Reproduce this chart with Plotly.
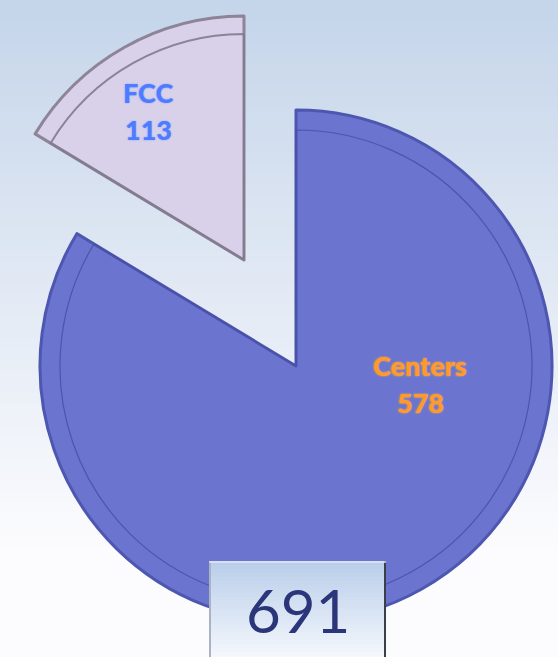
import plotly.graph_objects as go

# ---- data ----
labels = ["Centers", "FCC"]
values = [578, 113]
total_label = "691"

W, H = 558, 657

centers_color = "#6b75cf"
fcc_color = "#d9d1e9"
clear = "rgba(0,0,0,0)"

def px_x(x):
    return x / W

def px_y(y):
    return 1 - y / H

fig = go.Figure()

def pie(colors, line_colors, widths, cx, cy, r):
    return go.Pie(
        labels=labels, values=values, sort=False, direction="clockwise", rotation=0,
        marker=dict(colors=colors, line=dict(color=line_colors, width=widths)),
        textinfo="none", hoverinfo="label+value", showlegend=False,
        domain=dict(x=[(cx - r) / W, (cx + r) / W],
                    y=[1 - (cy + r) / H, 1 - (cy - r) / H]),
    )

# main pie (Centers visible)
fig.add_trace(pie([centers_color, clear], ["#4e57b0", clear], [3, 0], 296, 366, 256))
# inner bevel line of Centers
fig.add_trace(pie([clear, clear], ["rgba(70,78,160,0.8)", clear], [1.2, 0], 296, 366, 236))
# exploded FCC slice
fig.add_trace(pie([clear, fcc_color], [clear, "#8d8498"], [0, 3], 244, 260, 244))
# inner bevel line of FCC
fig.add_trace(pie([clear, clear], [clear, "rgba(130,122,142,0.9)"], [0, 2], 244, 260, 226))

shapes = []
# background gradient
n = 60
top = (197, 213, 234)
bot = (252, 252, 254)
for i in range(n):
    t = i / (n - 1)
    tt = min(1.0, t / 0.85)
    c = tuple(int(round(top[k] + (bot[k] - top[k]) * tt)) for k in range(3))
    shapes.append(dict(type="rect", xref="paper", yref="paper",
                       x0=-0.01, x1=1.01, y0=1 - (i + 1.6) / n, y1=1 - i / n + 0.002,
                       fillcolor="rgb(%d,%d,%d)" % c, line=dict(width=0), layer="below"))

# total box gradient
bx0, bx1, by0, by1 = 209, 386, 561, 660
m = 25
btop = (186, 206, 234)
bbot = (245, 248, 253)
for i in range(m):
    t = i / (m - 1)
    c = tuple(int(round(btop[k] + (bbot[k] - btop[k]) * t)) for k in range(3))
    ya = by0 + (by1 - by0) * i / m
    yb = by0 + (by1 - by0) * (i + 1.6) / m
    shapes.append(dict(type="rect", xref="paper", yref="paper",
                       x0=px_x(bx0), x1=px_x(bx1), y0=px_y(min(yb, by1)), y1=px_y(ya),
                       fillcolor="rgb(%d,%d,%d)" % c, line=dict(width=0), layer="above"))
# box edges
shapes.append(dict(type="line", xref="paper", yref="paper",
                   x0=px_x(bx1 - 1), x1=px_x(bx1 - 1), y0=-0.01, y1=px_y(by0),
                   line=dict(color="#3a3f4a", width=2), layer="above"))
shapes.append(dict(type="line", xref="paper", yref="paper",
                   x0=px_x(bx0 + 1), x1=px_x(bx0 + 1), y0=-0.01, y1=px_y(by0),
                   line=dict(color="#a9b3c2", width=2), layer="above"))
shapes.append(dict(type="line", xref="paper", yref="paper",
                   x0=px_x(bx0), x1=px_x(bx1), y0=px_y(by0 + 1), y1=px_y(by0 + 1),
                   line=dict(color="#dfe8f4", width=1.5), layer="above"))

annotations = []
label_styles = {
    "FCC": dict(x=148, y1=92, y2=129, color="#4f7cff", glow="#7fa3ff"),
    "Centers": dict(x=420, y1=365, y2=402, color="#ff9a2a", glow="#ffb24f"),
}
for lab, val in zip(labels, values):
    st = label_styles[lab]
    for txt, yy in ((lab, st["y1"]), (str(val), st["y2"])):
        annotations.append(dict(
            text=txt, x=px_x(st["x"]), y=px_y(yy), xref="paper", yref="paper",
            showarrow=False, xanchor="center", yanchor="middle",
            font=dict(family="Lato", size=27, color=st["color"], weight=900,
                      shadow="0px 0px 2px " + st["glow"]),
        ))

annotations.append(dict(
    text=total_label, x=px_x(298), y=px_y(610), xref="paper", yref="paper",
    showarrow=False, xanchor="center", yanchor="middle",
    font=dict(family="Lato", size=60, color="#2b367a"),
))

fig.update_layout(
    width=W, height=H, margin=dict(l=0, r=0, t=0, b=0),
    paper_bgcolor="#f4f7fb", plot_bgcolor="rgba(0,0,0,0)",
    shapes=shapes, annotations=annotations, showlegend=False,
)

fig.write_html("out.html")
